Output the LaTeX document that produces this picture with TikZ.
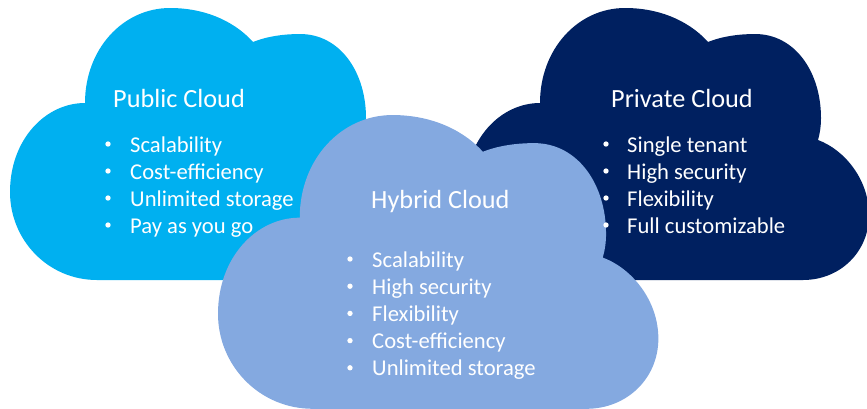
\documentclass[tikz,border=0pt]{standalone}
\usepackage{fontspec}
\setmainfont{Carlito}
\usetikzlibrary{positioning}
\definecolor{publicblue}{RGB}{0,176,240}
\definecolor{privateblue}{RGB}{0,32,96}
\definecolor{hybridblue}{RGB}{132,169,224}

% outline of one cloud, in pixel units (y grows downwards)
\newcommand{\cloudoutline}{(85,103) .. controls (85,49) and (123,8) .. (170,8)
    .. controls (210,8) and (238,25) .. (253,42)
    .. controls (268,36) and (285,34) .. (300,34)
    .. controls (340,34) and (366,72) .. (366,118)
    .. controls (366,126) and (365,133) .. (363,140)
    .. controls (390,150) and (414,180) .. (414,215)
    .. controls (414,252) and (385,280) .. (348,280)
    -- (97,280)
    .. controls (48,280) and (10,240) .. (10,192)
    .. controls (10,140) and (45,103) .. cycle}

\begin{document}
\begin{tikzpicture}[x=0.03cm, y=-0.03cm,
    cloudtitle/.style={white, inner sep=0pt, anchor=base west, font=\fontsize{22.4}{27}\selectfont},
    itemtext/.style={white, inner sep=0pt, anchor=base west, font=\fontsize{19.3}{23}\selectfont},
    bulletmark/.style={circle, fill=white, inner sep=0pt, minimum size=0.16cm}]
    \useasboundingbox (0,0) rectangle (867,408);

    % Clouds
    \fill[publicblue] \cloudoutline;
    \fill[privateblue, shift={(455,0)}] \cloudoutline;
    \fill[hybridblue, shift={(207.1,106.4)}, xscale=1.09, yscale=1.08] \cloudoutline;

    % Public cloud
    \node[cloudtitle] (pubtitle) at (113,107) {Public Cloud};
    \foreach \txt [count=\i] in {Scalability, Cost-efficiency, Unlimited storage, Pay as you go} {
        \node[bulletmark] (pubdot\i) at (108,{144+27*(\i-1)}) {};
        \node[itemtext] (pub\i) at (130,{152+27*(\i-1)}) {\txt};
    }

    % Private cloud
    \node[cloudtitle] (privtitle) at (611,107) {Private Cloud};
    \foreach \txt [count=\i] in {Single tenant, High security, Flexibility, Full customizable} {
        \node[bulletmark] (privdot\i) at (606,{144+27*(\i-1)}) {};
        \node[itemtext] (priv\i) at (627,{152+27*(\i-1)}) {\txt};
    }

    % Hybrid cloud
    \node[cloudtitle] (hybtitle) at (371,208) {Hybrid Cloud};
    \foreach \txt [count=\i] in {Scalability, High security, Flexibility, Cost-efficiency, Unlimited storage} {
        \node[bulletmark] (hybdot\i) at (350,{259+27.2*(\i-1)}) {};
        \node[itemtext] (hyb\i) at (372,{267+27.2*(\i-1)}) {\txt};
    }
\end{tikzpicture}
\end{document}
